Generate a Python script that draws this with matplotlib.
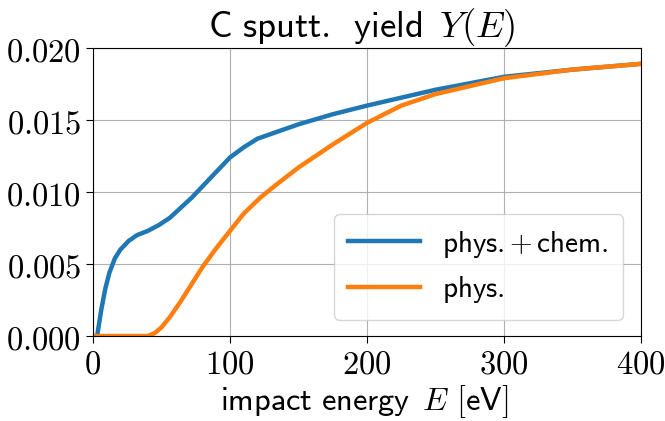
import numpy as np
import matplotlib
matplotlib.use("Agg")
import matplotlib.pyplot as plt
from matplotlib.ticker import FuncFormatter

plt.rcParams['mathtext.fontset'] = 'cm'
plt.rcParams['font.family'] = ['DejaVu Sans']

# impact energy [eV] and sputtering yields
energy_chem = [3, 6, 9, 12, 16, 20, 26, 32, 40, 48, 56, 64, 72, 80, 90, 100, 110, 120, 135, 150, 175, 200, 250, 300, 350, 400]
yield_chem = [0.0, 0.0018, 0.0033, 0.0044, 0.0054, 0.0060, 0.0066, 0.0070, 0.0073, 0.0077, 0.0082, 0.0089, 0.0096, 0.0104, 0.0114, 0.0124, 0.0131, 0.0137, 0.0142, 0.0147, 0.0154, 0.0160, 0.0171, 0.0180, 0.0185, 0.0189]

energy_phys = [0, 20, 40, 45, 50, 56, 64, 72, 80, 90, 100, 110, 122, 135, 150, 175, 200, 225, 250, 300, 350, 400]
yield_phys = [0.0, 0.0, 0.0, 0.0002, 0.0006, 0.0013, 0.0024, 0.0036, 0.0048, 0.0061, 0.0073, 0.0085, 0.0096, 0.0106, 0.0117, 0.0133, 0.0148, 0.0160, 0.0168, 0.0179, 0.0185, 0.0189]

W, H = 665, 421
fig = plt.figure(figsize=(W / 100, H / 100), dpi=100)
ax = fig.add_axes([93 / W, 1 - 336 / H, 548 / W, 288 / H])

ax.plot(energy_chem, yield_chem, color='#1f77b4', lw=3.2,
        label=r'$\mathsf{phys.}{+}\,\mathsf{chem.}$')
ax.plot(energy_phys, yield_phys, color='#ff7f0e', lw=3.2,
        label=r'$\mathsf{phys.}$')

ax.set_xlim(0, 400)
ax.set_ylim(0, 0.020)
ax.set_xticks([0, 100, 200, 300, 400])
ax.set_yticks([0, 0.005, 0.010, 0.015, 0.020])
ax.xaxis.set_major_formatter(FuncFormatter(lambda v, p: r'$%d$' % v))
ax.yaxis.set_major_formatter(FuncFormatter(lambda v, p: r'$%.3f$' % v))
ax.tick_params(labelsize=23.5, length=5)
ax.grid(True, color='#b0b0b0', lw=0.8)

ax.legend(loc='lower right', fontsize=21, handlelength=2.45, borderpad=0.5,
          labelspacing=0.5, handletextpad=0.75, borderaxespad=0,
          bbox_to_anchor=(0.967, 0.056), framealpha=0.8)

fig.text(362 / W, 1 - 37 / H, r'$\mathsf{C\ sputt.\ \,yield}\ \,Y(E)$',
         fontsize=26.5, ha='center', va='baseline')
fig.text(364 / W, 1 - 410 / H, r'$\mathsf{impact\ energy}\ \,E\ [\mathsf{eV}]$',
         fontsize=23.3, ha='center', va='baseline')

fig.savefig('out.png', dpi=100)
